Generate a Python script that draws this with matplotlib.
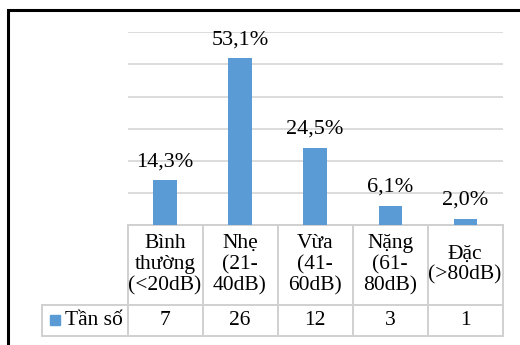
import matplotlib
matplotlib.use('Agg')
import matplotlib.pyplot as plt
from matplotlib.patches import Rectangle

# dữ liệu
categories = ['Bình\nthường\n(<20dB)', 'Nhẹ\n(21-\n40dB)', 'Vừa\n(41-\n60dB)',
              'Nặng\n(61-\n80dB)', 'Đặc\n(>80dB)']
counts = [7, 26, 12, 3, 1]
pct_labels = ['14,3%', '53,1%', '24,5%', '6,1%', '2,0%']
series_name = 'Tần số'

blue = '#5B9BD5'
grid_c = '#d9d9d9'
plt.rcParams['font.family'] = ['Liberation Serif', 'DejaVu Serif']

fig = plt.figure(figsize=(5.2, 3.45), dpi=100)
ax = fig.add_axes([127.5 / 520, 120 / 345, 375.2 / 520, 192.7 / 345])

x = list(range(len(counts)))
bars = ax.bar(x, counts, width=0.31, color=blue, zorder=3)
for b, lab in zip(bars, pct_labels):
    ax.annotate(lab, (b.get_x() + b.get_width() / 2, b.get_height()),
                xytext=(0, 10), textcoords='offset points',
                ha='center', va='baseline', fontsize=16)

ax.set_xlim(-0.5, len(counts) - 0.5)
ax.set_ylim(0, 30)
ax.set_yticks(range(0, 31, 5))
ax.yaxis.grid(True, color=grid_c, lw=1.3)
ax.tick_params(left=False, bottom=False, labelleft=False, labelbottom=False)
for s in ax.spines.values():
    s.set_visible(False)

# bảng dữ liệu bên dưới
tr = ax.get_xaxis_transform()
head_left = -0.5 - 1.133
r1 = -0.4126
r2 = -0.576
right = len(counts) - 0.5
line_c = '#d0d0d0'
kw = dict(color=line_c, lw=1.4, transform=tr, clip_on=False)
ax.plot([-0.5, right], [0, 0], **kw)
ax.plot([head_left, right], [r1, r1], **kw)
ax.plot([head_left, right], [r2, r2], **kw)
for i in range(len(counts) + 1):
    ax.plot([i - 0.5, i - 0.5], [r2, 0], **kw)
ax.plot([head_left, head_left], [r2, r1], **kw)

for i, (c, n) in enumerate(zip(categories, counts)):
    ax.text(i, r1 / 2, c, ha='center', va='center', fontsize=15.5,
            linespacing=1.14, transform=tr)
    ax.text(i, (r1 + r2) / 2, str(n), ha='center', va='center',
            fontsize=15.5, transform=tr)

ax.plot([head_left + 0.167], [(r1 + r2) / 2], marker='s', ms=7.2,
        color=blue, transform=tr, clip_on=False, ls='none')
ax.text(head_left + 0.305, (r1 + r2) / 2, series_name, ha='left',
        va='center', fontsize=15.5, transform=tr)

# khung viền
fig.add_artist(Rectangle((7.7 / 520, -0.2), 1.5, 1.2 - 9.5 / 345,
                         fill=False, ec='black', lw=2.2,
                         transform=fig.transFigure))

fig.savefig('out.png', dpi=100)
